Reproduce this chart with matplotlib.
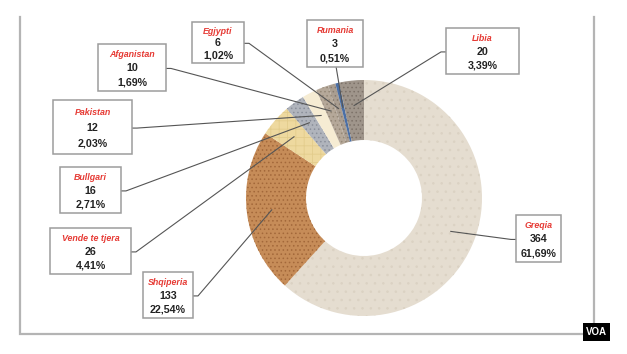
import matplotlib
matplotlib.use("Agg")
import matplotlib.pyplot as plt
from matplotlib.patches import Rectangle
import numpy as np

# data (clockwise from 12 o'clock)
countries = ["Greqia", "Shqiperia", "Vende te tjera", "Bullgari", "Pakistan",
             "Afganistan", "Egjypti", "Rumania", "Libia"]
counts = [364, 133, 26, 16, 12, 10, 6, 3, 20]

# slice look
slice_colors = ["#e5ddd0", "#c68c58", "#eed99f", "#b0b4bc", "#f6ecd3",
                "#b5a899", "#aa9e91", "#4b6fa5", "#9f958b"]
hatch_colors = ["#dbd2c3", "#a3683a", "#e3cc8c", "#8b909b", "#efe2c4",
                "#958877", "#887c70", "#3c5c8e", "#7d7269"]
hatches = ["..", "....", "++", "....", "", "....", "....", "", "...."]

# label boxes in pixels: left, top, width, height, side the leader leaves from
boxes = [
    (516, 215, 45, 47, "left"),
    (143, 272, 50, 46, "right"),
    (50, 228, 81, 46, "right"),
    (60, 167, 61, 46, "right"),
    (53, 100, 79, 54, "right"),
    (98, 44, 68, 47, "right"),
    (192, 22, 52, 41, "right"),
    (307, 20, 56, 47, "bottom"),
    (446, 28, 73, 46, "left"),
]

W, H = 627, 354
cx, cy, R, ring = 364, 198, 118, 60

plt.rcParams['font.family'] = ['Liberation Sans', 'DejaVu Sans']
plt.rcParams['hatch.linewidth'] = 0.6

fig = plt.figure(figsize=(W / 100, H / 100), dpi=100)
ax = fig.add_axes([0, 0, 1, 1])

wedges, _ = ax.pie(counts, startangle=-90, counterclock=True, center=(cx, cy),
                   radius=R, colors=slice_colors,
                   wedgeprops=dict(width=ring, linewidth=0))
for w, hc, ht in zip(wedges, hatch_colors, hatches):
    w.set_edgecolor(hc)
    w.set_linewidth(0)
    w.set_hatch(ht)

ax.set_xlim(0, W)
ax.set_ylim(H, 0)
ax.set_aspect('auto')
ax.axis('off')

total = sum(counts)
for w, name, n, (bx, by, bw, bh, side) in zip(wedges, countries, counts, boxes):
    # leader line from box to the middle of the slice
    mid = np.deg2rad((w.theta1 + w.theta2) / 2)
    ax_pt = (cx + 93 * np.cos(mid), cy + 93 * np.sin(mid))
    ymid = by + 0.52 * bh
    if side == "right":
        pts = [(bx + bw, ymid), (bx + bw + 5, ymid), ax_pt]
    elif side == "left":
        pts = [(bx, ymid), (bx - 5, ymid), ax_pt]
    else:
        pts = [(bx + bw * 0.52, by + bh), ax_pt]
    xs, ys = zip(*pts)
    ax.plot(xs, ys, color="#555555", lw=0.8, zorder=3)

    ax.add_patch(Rectangle((bx, by), bw, bh, facecolor="white",
                           edgecolor="#9c9c9c", lw=1.1, zorder=4))
    tx = bx + bw / 2
    ax.text(tx, by + 0.23 * bh, name, color="#e63b35", fontsize=6.4,
            fontweight="bold", fontstyle="italic", ha="center", va="center", zorder=5)
    ax.text(tx, by + 0.52 * bh, str(n), color="#222222", fontsize=7.7,
            fontweight="bold", ha="center", va="center", zorder=5)
    pct = f"{n / total * 100:.2f}%".replace(".", ",")
    ax.text(tx, by + 0.81 * bh, pct, color="#222222", fontsize=7.7,
            fontweight="bold", ha="center", va="center", zorder=5)

# panel frame (no top edge)
ax.plot([20, 20, 594, 594], [17, 334, 334, 17], color="#b4b4b4", lw=1.6,
        solid_joinstyle="miter", zorder=2)

# VOA badge
ax.add_patch(Rectangle((583, 323), 27, 18, facecolor="black", zorder=6))
ax.text(596.5, 332, "VOA", color="white", fontsize=7, fontweight="bold",
        ha="center", va="center", zorder=7)

fig.savefig("out.png", dpi=100, facecolor="white")
